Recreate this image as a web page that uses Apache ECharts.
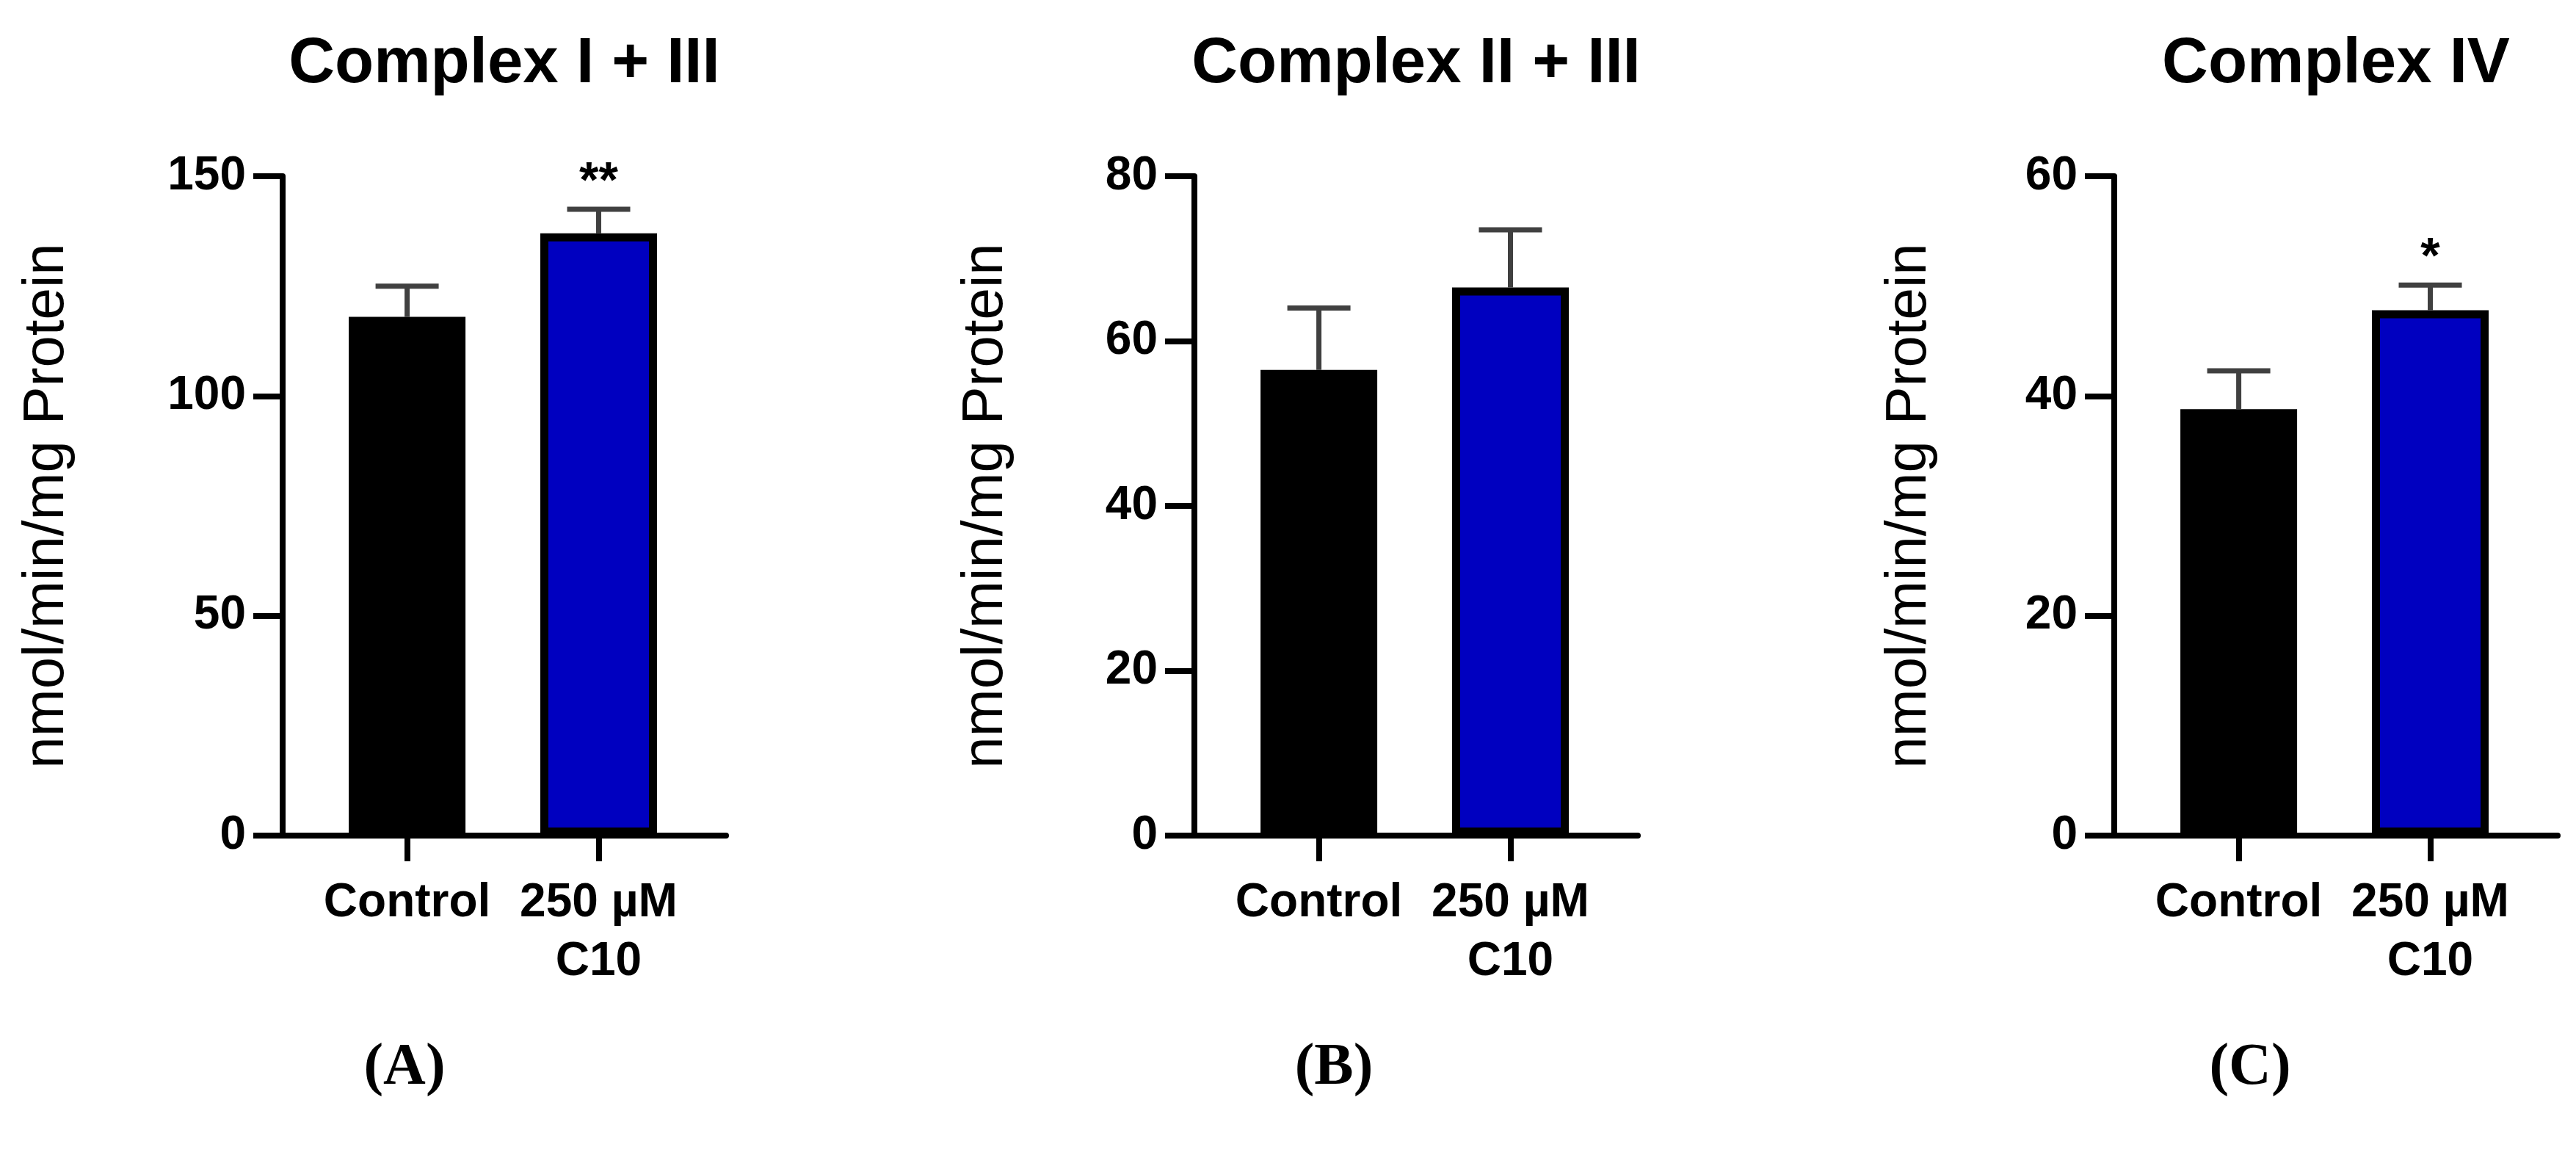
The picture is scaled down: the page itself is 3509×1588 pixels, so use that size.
<!DOCTYPE html>
<html>
<head>
<meta charset="utf-8">
<script src="https://cdn.jsdelivr.net/npm/echarts@6/dist/echarts.min.js"></script>
<style>
html, body { margin: 0; padding: 0; background: #fff; }
#chart { width: 3509px; height: 1588px; }
</style>
</head>
<body>
<div id="chart"></div>
<script>
// data
var categories = ['Control', '250 µM\nC10'];
var panelTitles = ['Complex I + III', 'Complex II + III', 'Complex IV'];
var panelLetters = ['A', 'B', 'C'];
var yName = 'nmol/min/mg Protein';
var yMax = [150, 80, 60];
var yStep = [50, 20, 20];

var meanA = [118, 137];
var errA = [7, 5.5];
var meanB = [56.5, 66.5];
var errB = [7.5, 7];
var meanC = [38.8, 47.8];
var errC = [3.5, 2.3];
var sigA = ['', '**'];
var sigB = ['', ''];
var sigC = ['', '*'];

var barColors = ['#000000', '#0000c0'];

// layout
var FONT = '"Liberation Sans", Arial, sans-serif';
var gridLeft = [385, 1627, 2880];
var gridTop = 240;
var gridW = 604;
var gridH = 898;
var nameGaps = [282, 245, 240];
var letterX = [551, 1817, 3065];

var means = [meanA, meanB, meanC];
var errs = [errA, errB, errC];
var sigs = [sigA, sigB, sigC];

function barData(m) {
	return m.map(function (v, i) {
		return { value: [i, v], itemStyle: { color: barColors[i] } };
	});
}

function errData(m, e) {
	return m.map(function (v, i) {
		return [i, v, e[i]];
	});
}

function makeErrRender(sig) {
	return function (params, api) {
		var x = api.value(0), m = api.value(1), e = api.value(2);
		var base = api.coord([x, m]);
		var top = api.coord([x, m + e]);
		var half = 43;
		var st = { stroke: '#404040', lineWidth: 7 };
		var kids = [
			{ type: 'line', shape: { x1: base[0], y1: base[1], x2: top[0], y2: top[1] }, style: st },
			{ type: 'line', shape: { x1: top[0] - half, y1: top[1], x2: top[0] + half, y2: top[1] }, style: st }
		];
		if (sig[params.dataIndex]) {
			kids.push({
				type: 'text',
				x: top[0], y: top[1] - 36,
				style: {
					text: sig[params.dataIndex], fill: '#000',
					fontSize: 68, fontWeight: 'bold', fontFamily: FONT,
					align: 'center', verticalAlign: 'middle'
				}
			});
		}
		return { type: 'group', children: kids };
	};
}

var option = {
	backgroundColor: '#fff',
	animation: false,
	title: [],
	grid: [],
	xAxis: [],
	yAxis: [],
	series: []
};

for (var p = 0; p < 3; p++) {
	option.title.push({
		text: panelTitles[p],
		left: gridLeft[p] + gridW / 2,
		top: 45,
		textAlign: 'center',
		padding: 0,
		textStyle: { fontFamily: FONT, fontWeight: 'bold', fontSize: 87, color: '#000' }
	});
	option.title.push({
		text: '{p|(}{b|' + panelLetters[p] + '}{p|)}',
		left: letterX[p],
		top: 1415,
		textAlign: 'center',
		padding: 0,
		textStyle: {
			rich: {
				p: { fontFamily: '"Liberation Serif", "Times New Roman", serif', fontSize: 80, color: '#000' },
				b: { fontFamily: '"Liberation Serif", "Times New Roman", serif', fontSize: 80, fontWeight: 'bold', color: '#000' }
			}
		}
	});

	option.grid.push({ left: gridLeft[p], top: gridTop, width: gridW, height: gridH });

	option.xAxis.push({
		type: 'value',
		gridIndex: p,
		min: -0.65,
		max: 1.665,
		splitLine: { show: false },
		axisLine: { show: true, onZero: true, lineStyle: { color: '#000', width: 8 } },
		axisTick: { show: true, customValues: [0, 1], length: 35, lineStyle: { color: '#000', width: 8 } },
		axisLabel: {
			customValues: [0, 1],
			margin: 52,
			fontFamily: FONT, fontWeight: 'bold', fontSize: 64, color: '#000',
			lineHeight: 80,
			formatter: function (v) { return categories[Math.round(v)]; }
		}
	});

	option.yAxis.push({
		type: 'value',
		gridIndex: p,
		min: 0,
		max: yMax[p],
		interval: yStep[p],
		name: yName,
		nameLocation: 'middle',
		nameGap: nameGaps[p],
		nameTextStyle: { fontFamily: FONT, fontSize: 78, color: '#000' },
		splitLine: { show: false },
		axisLine: { show: true, onZero: false, lineStyle: { color: '#000', width: 8 } },
		axisTick: { show: true, length: 40, lineStyle: { color: '#000', width: 8 } },
		axisLabel: { margin: 50, fontFamily: FONT, fontWeight: 'bold', fontSize: 64, color: '#000' }
	});

	option.series.push({
		type: 'bar',
		xAxisIndex: p,
		yAxisIndex: p,
		barWidth: 159,
		itemStyle: { borderColor: '#000', borderWidth: 11 },
		data: barData(means[p])
	});

	option.series.push({
		type: 'custom',
		xAxisIndex: p,
		yAxisIndex: p,
		z: 5,
		clip: false,
		renderItem: makeErrRender(sigs[p]),
		data: errData(means[p], errs[p])
	});
}

var myChart = echarts.init(document.getElementById('chart'));
myChart.setOption(option);
</script>
</body>
</html>
